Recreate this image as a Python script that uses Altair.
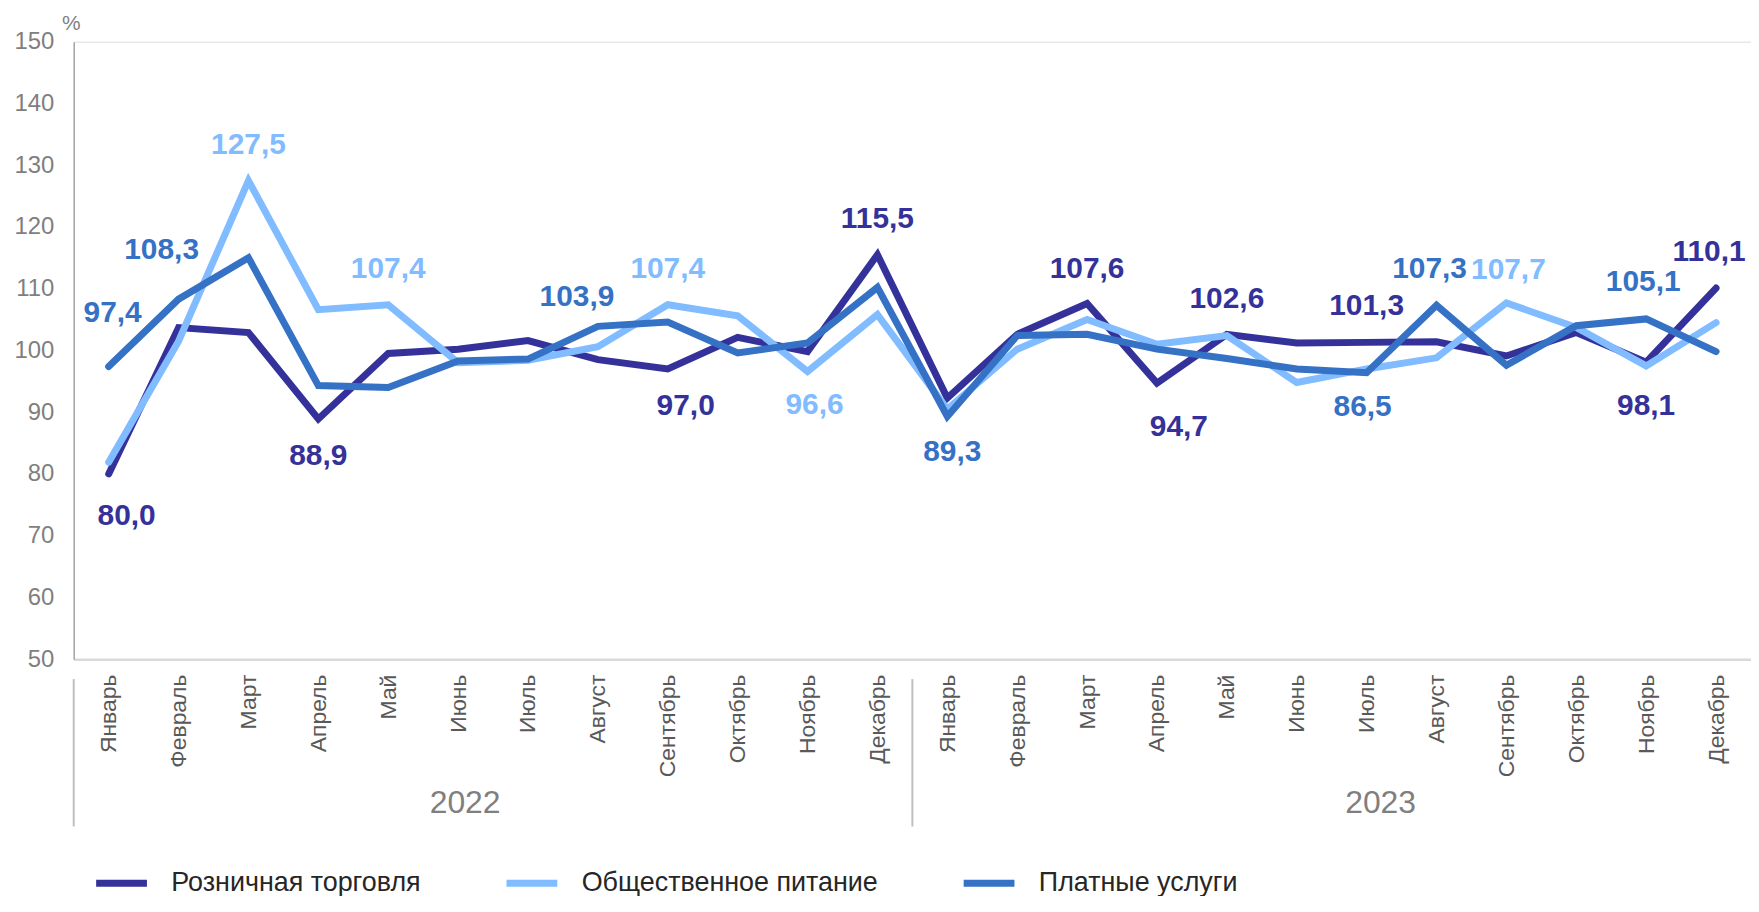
import altair as alt
import pandas as pd

# ---------------- data ----------------
months = ["Январь", "Февраль", "Март", "Апрель", "Май", "Июнь", "Июль",
          "Август", "Сентябрь", "Октябрь", "Ноябрь", "Декабрь"]
years = ["2022", "2023"]
series_names = ["Розничная торговля", "Общественное питание", "Платные услуги"]

retail = [80.0, 103.7, 102.9, 88.9, 99.5, 100.2, 101.6, 98.5, 97.0, 102.1, 99.8, 115.5,
          92.3, 102.6, 107.6, 94.7, 102.6, 101.2, 101.3, 101.4, 99.1, 102.9, 98.1, 110.1]
food = [81.9, 101.5, 127.5, 106.6, 107.4, 98.0, 98.4, 100.6, 107.4, 105.6, 96.6, 105.8,
        90.5, 100.2, 105.0, 101.0, 102.4, 94.8, 97.0, 98.8, 107.7, 103.7, 97.5, 104.5]
services = [97.4, 108.3, 115.0, 94.3, 94.0, 98.3, 98.6, 103.9, 104.6, 99.6, 101.2, 110.2,
            89.3, 102.4, 102.6, 100.2, 98.7, 97.0, 96.4, 107.3, 97.6, 104.0, 105.1, 99.8]

# data labels: series number, month index (0..23), text shown
label_series = [0, 0, 0, 0, 0, 0, 0, 0, 0, 0,
                1, 1, 1, 1, 1,
                2, 2, 2, 2, 2, 2, 2]
label_index = [0, 3, 8, 11, 14, 15, 16, 18, 22, 23,
               2, 4, 8, 10, 20,
               0, 1, 7, 12, 18, 19, 22]
label_text = ["80,0", "88,9", "97,0", "115,5", "107,6", "94,7", "102,6", "101,3", "98,1", "110,1",
              "127,5", "107,4", "107,4", "96,6", "107,7",
              "97,4", "108,3", "103,9", "89,3", "86,5", "107,3", "105,1"]

# year captions: position along the month axis (month index units)
year_pos = [5.1, 18.2]
# group separators (between month slots)
sep_pos = [-0.5, 11.5]

# ---------------- style ----------------
FONT = "Liberation Sans"
COLORS = ["#34329a", "#80bcff", "#3571c4"]
W, H = 1684, 620

# label offsets in pixels (dx, dy) relative to the data point, one per label above
LABEL_OFFSETS = [(18, 42), (0, 37), (18, 37), (0, -36), (0, -35), (22, 44), (0, -35), (0, -36), (0, 44), (-7, -36),
                 (0, -36), (0, -36), (0, -36), (7, 34), (2, -33),
                 (4, -54), (-17, -49), (-21, -29), (5, 36), (-4, 35), (-7, -36), (-3, -37)]

all_series = [retail, food, services]

line_frames = []
for s, vals in zip(series_names, all_series):
    line_frames.append(pd.DataFrame({"idx": list(range(len(vals))), "value": vals, "series": s}))

lab_df = pd.DataFrame({
    "lid": list(range(len(label_text))),
    "idx": label_index,
    "value": [all_series[s][i] for s, i in zip(label_series, label_index)],
    "text": label_text,
    "lcolor": [COLORS[s] for s in label_series],
})

year_df = pd.DataFrame({"idx": year_pos, "year": years})
sep_df = pd.DataFrame({"idx": sep_pos})

month_js = "[" + ",".join("'" + m + "'" for m in months) + "]"

X_ENC = alt.X(
    "idx:Q",
    scale=alt.Scale(domain=[-0.5, 23.5], nice=False, zero=False),
    axis=alt.Axis(
        values=list(range(24)),
        labelExpr=month_js + "[datum.value % 12]",
        labelAngle=-90,
        labelAlign="right",
        labelBaseline="middle",
        labelFont=FONT,
        labelFontSize=23,
        labelColor="#595959",
        labelPadding=15,
        ticks=False,
        grid=False,
        domainColor="#d9d9d9",
        domainWidth=2.5,
        title=None,
        labelOverlap=False,
    ),
)

Y_ENC = alt.Y(
    "value:Q",
    scale=alt.Scale(domain=[50, 150], nice=False, zero=False),
    axis=alt.Axis(
        values=list(range(50, 151, 10)),
        labelFont=FONT,
        labelFontSize=24,
        labelColor="#7f7f7f",
        labelPadding=20,
        ticks=False,
        grid=False,
        domainColor="#a6a6a6",
        domainWidth=1.5,
        title="%",
        titleAngle=0,
        titleX=-3,
        titleY=-12,
        titleAlign="center",
        titleBaseline="alphabetic",
        titleFont=FONT,
        titleFontSize=21,
        titleFontWeight="normal",
        titleColor="#7f7f7f",
    ),
)

COLOR_ENC = alt.Color(
    "series:N",
    scale=alt.Scale(domain=series_names, range=COLORS),
    legend=alt.Legend(
        orient="none",
        legendX=19,
        legendY=816,
        direction="horizontal",
        title=None,
        symbolType="stroke",
        symbolSize=2601,
        symbolStrokeWidth=7,
        labelFont=FONT,
        labelFontSize=27,
        labelColor="#262626",
        labelOffset=21,
        labelLimit=600,
        columnPadding=71,
        padding=0,
    ),
)

layers = []
for df in line_frames:
    layers.append(
        alt.Chart(df).mark_line(strokeWidth=7, strokeCap="round", strokeJoin="miter").encode(
            x=X_ENC, y=Y_ENC, color=COLOR_ENC
        )
    )

seps = alt.Chart(sep_df).mark_rule(color="#bfbfbf", strokeWidth=2).encode(
    x=X_ENC, y=alt.value(H + 20), y2=alt.value(H + 168)
)
year_labels = alt.Chart(year_df).mark_text(
    font=FONT, fontSize=32, color="#7f7f7f", baseline="middle", align="center"
).encode(x=X_ENC, y=alt.value(H + 144), text="year:N")

layers += [seps, year_labels]

for i, (dx, dy) in enumerate(LABEL_OFFSETS):
    layers.append(
        alt.Chart(lab_df).transform_filter(alt.datum.lid == i).mark_text(
            font=FONT, fontSize=30, fontWeight="bold", dx=dx, dy=dy,
            align="center", baseline="middle"
        ).encode(x=X_ENC, y=Y_ENC, text="text:N", color=alt.Color("lcolor:N", scale=None))
    )

chart = alt.layer(*layers).properties(
    width=W,
    height=H,
    autosize=alt.AutoSizeParams(type="none"),
    padding={"left": 66, "top": 32, "right": 0, "bottom": 236},
).configure_view(stroke=None).configure(background="white")

chart.save("out.html", embed_options={"renderer": "svg", "actions": False})
